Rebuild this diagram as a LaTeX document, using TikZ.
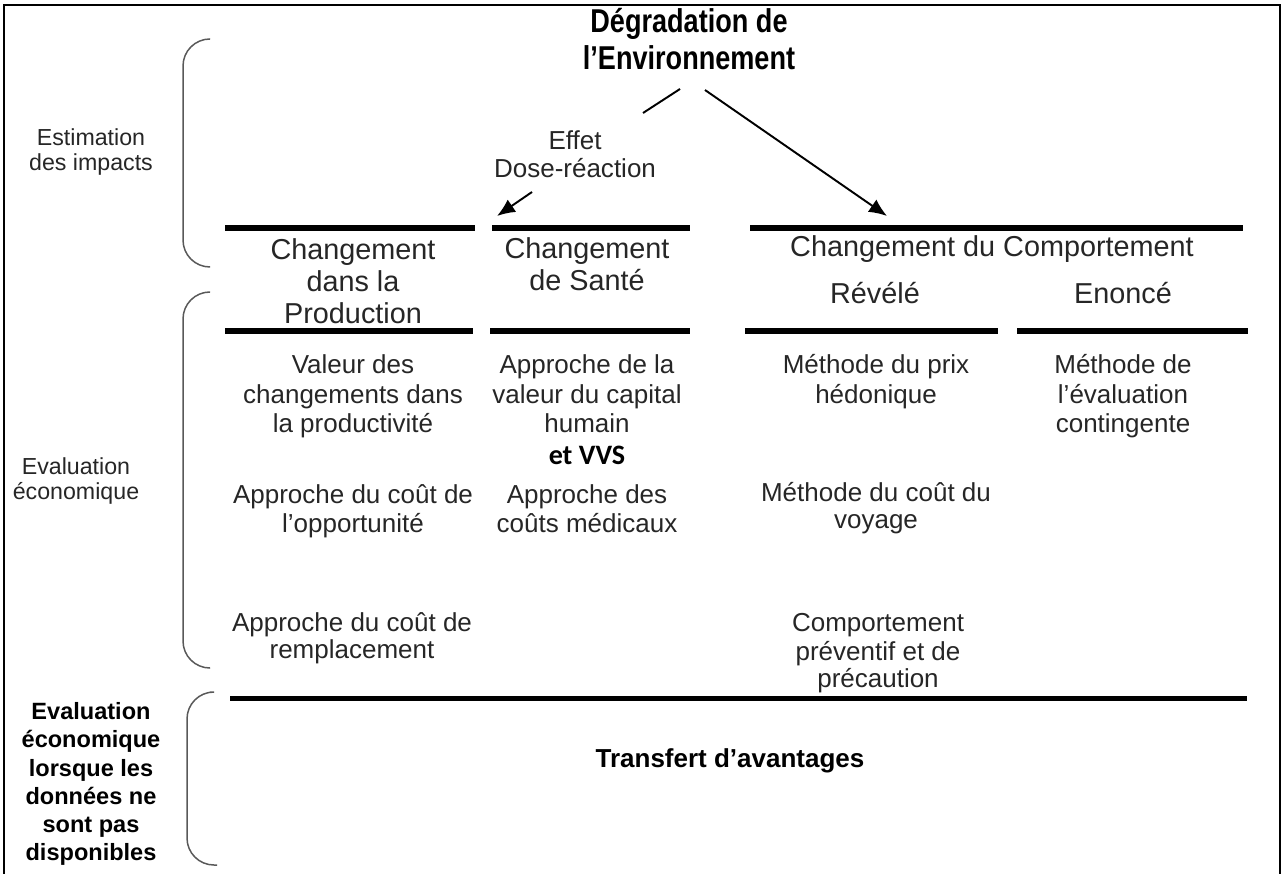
\documentclass[tikz,border=0pt]{standalone}
\usepackage{fontspec}
\setmainfont{Liberation Sans}
\newfontfamily\titlefont[FakeStretch=0.82]{Liberation Sans}
\newfontfamily\calibri{Carlito}
\usetikzlibrary{arrows.meta}

\def\bodysize{\fontsize{14.8}{17}\selectfont}
\def\headsize{\fontsize{16.4}{18.2}\selectfont}

\begin{document}
\begin{tikzpicture}[x=0.02cm, y=-0.02cm,
    nodes = {align=center, inner sep=0pt, text=black!85},
    body/.style = {font=\bodysize},
    tight/.style = {font=\fontsize{14.8}{15.5}\selectfont},
    head/.style = {font=\headsize},
    side/.style = {font=\fontsize{13.2}{14.2}\selectfont},
    sidebf/.style = {font=\fontsize{13.4}{16}\selectfont\bfseries},
    bar/.style = {line width=2.85pt},
    brace/.style = {draw=black!65, line width=0.85pt, rounded corners=0.54cm},
    link/.style = {line width=1.1pt},
    tip/.style = {-{Latex[length=0.36cm,width=0.3cm]}}]
\useasboundingbox (0,0) rectangle (1283,874);
\draw[line width=1.2pt] (4,880) -- (4,5) -- (1280,5) -- (1280,880);

% Title and the two connectors
\node[font=\titlefont\bfseries\fontsize{18.8}{21}\selectfont, text=black]
  (degr) at (689,39) {Dégradation de\\l’Environnement};
\node[body, font=\fontsize{14.8}{16}\selectfont] (effet) at (575,154) {Effet\\Dose-réaction};
\coordinate (dl1) at (680,89);
\coordinate (dl2) at (643,113);
\coordinate (el1) at (532,192);
\coordinate (santeIn) at (497,216);
\coordinate (dr1) at (705,90);
\coordinate (compIn) at (887,216);
\draw[link] (dl1) -- (dl2);
\draw[link, tip] (el1) -- (santeIn);
\draw[link, tip] (dr1) -- (compIn);

% Bars
\foreach \xa/\xb/\yy in {225/475/228, 492/690/228, 750/1243/228,
                         225/473/331, 490/690/331, 745/998/331, 1017/1248/331,
                         230/1247/698}
  \draw[bar] (\xa,\yy) -- (\xb,\yy);

% Headers
\node[head] (prod)   at (353,281) {Changement\\dans la\\Production};
\node[head] (sante)  at (587,264) {Changement\\de Santé};
\node[head] (comp)   at (992,249) {Changement du Comportement};
\node[head] (revele) at (875,293) {Révélé};
\node[head] (enonce) at (1123,293) {Enoncé};

% Methods (anchored at the top of the first line)
\foreach \xx/\yy/\sty/\name/\txt in {
    353/352/body/prodA/{Valeur des\\changements dans\\la productivité},
    587/352/body/santeA/{Approche de la\\valeur du capital\\humain},
    876/352/body/reveleA/{Méthode du prix\\hédonique},
    1123/352/body/enonceA/{Méthode de\\l’évaluation\\contingente},
    353/484/tight/prodB/{Approche du coût de\\l’opportunité},
    587/484/tight/santeB/{Approche des\\coûts médicaux},
    876/482/tight/reveleB/{Méthode du coût du\\voyage},
    352/612/tight/prodC/{Approche du coût de\\remplacement},
    878/612/tight/reveleC/{Comportement\\préventif et de\\précaution}%
  } {
    \node[\sty, anchor=north] (\name) at (\xx,\yy) {\strut\txt};
  };
\node[font=\calibri\bfseries\fontsize{16}{18}\selectfont, text=black]
  (vvs) at (587,455) {et VVS};
\node[body, font=\bodysize\bfseries, text=black] (transfert) at (730,761) {Transfert d'avantages};

% Side labels and brackets
\node[side] (estim) at (91,152) {Estimation\\des impacts};
\node[side] (evalu) at (76,481) {Evaluation\\économique};
\node[sidebf, text=black] (evalnd) at (91,784)
  {Evaluation\\économique\\lorsque les\\données ne\\sont pas\\disponibles};
\draw[brace] (210,39) -- (183,39) -- (183,267) -- (210,267);
\draw[brace] (210,292) -- (183,292) -- (183,668) -- (210,668);
\draw[brace] (210,692) -- (187,692) -- (187,865) -- (217,865);
\end{tikzpicture}
\end{document}
